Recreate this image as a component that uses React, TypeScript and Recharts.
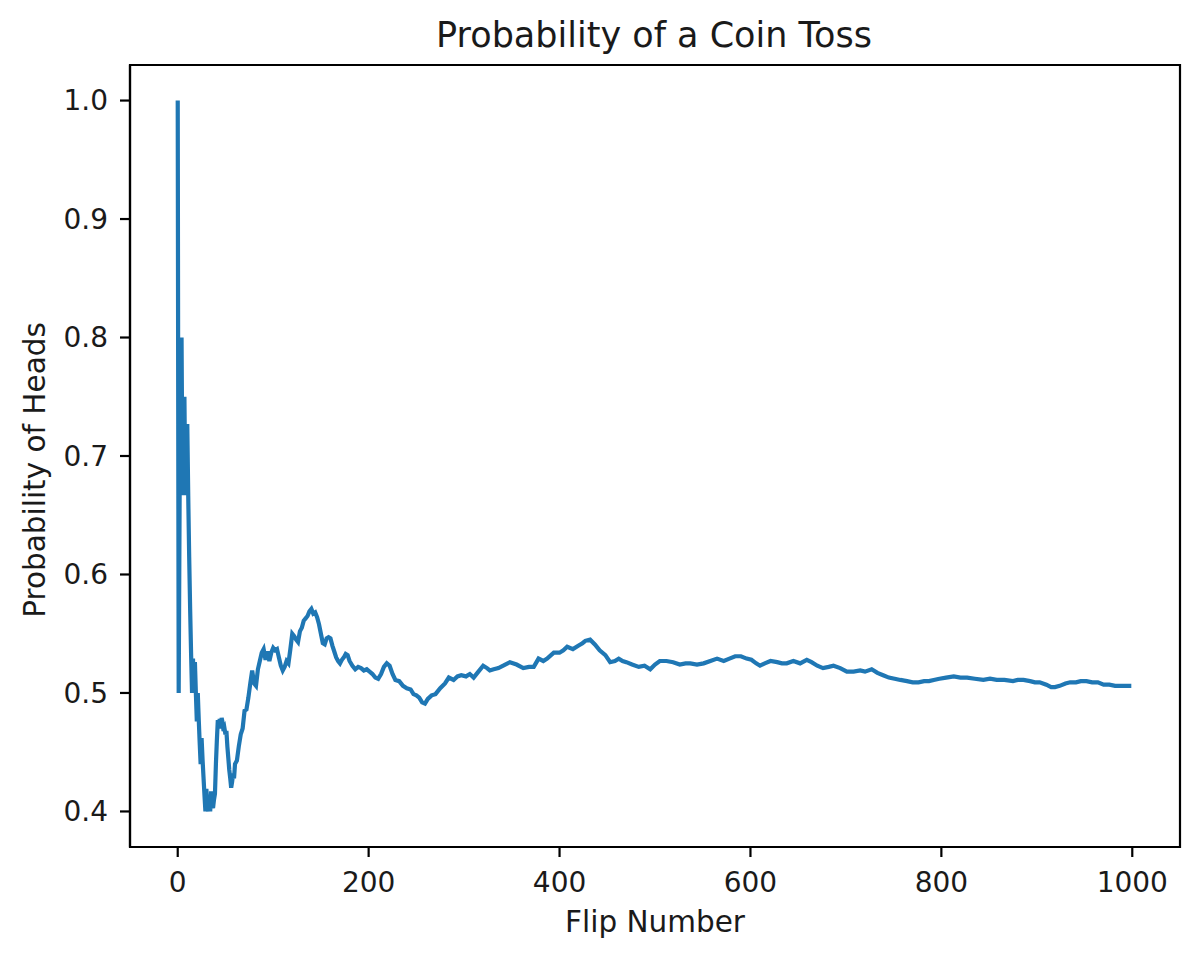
import { LineChart, Line, XAxis, YAxis, ReferenceArea } from 'recharts';

// running share of heads at irregular flip numbers
const flips = [
  0, 1, 2, 3, 4, 5, 6, 7, 8, 9, 10, 11, 12, 13, 14, 15, 16, 17, 18, 19,
  20, 21, 22, 23, 24, 25, 26, 27, 28, 29, 30, 31, 32, 33, 34, 35, 36, 37, 38, 39,
  40, 41, 42, 43, 44, 45, 46, 47, 48, 49, 50, 51, 52, 53, 54, 55, 56, 57, 58, 59,
  60, 62, 64, 66, 68, 70, 72, 74, 76, 78, 80, 82, 84, 86, 88, 90, 92, 94, 96, 98,
  100, 102, 104, 106, 108, 110, 112, 114, 116, 118, 120, 122, 124, 126, 128, 130,
  132, 134, 136, 138, 140, 142, 144, 146, 148, 150, 152, 154, 156, 158, 160, 162,
  164, 166, 168, 170, 172, 174, 176, 178, 180, 183, 186, 189, 192, 195, 198, 201,
  204, 207, 210, 213, 216, 219, 222, 225, 228, 232, 236, 240, 244, 247, 250, 253,
  256, 259, 262, 266, 270, 275, 280, 284, 289, 293, 297, 302, 306, 310, 315, 320,
  324, 327, 331, 336, 341, 348, 355, 362, 368, 373, 378, 383, 387, 394, 400, 404,
  408, 414, 420, 424, 427, 432, 437, 442, 448, 453, 458, 462, 466, 470, 476, 483,
  489, 495, 500, 505, 512, 519, 526, 532, 537, 544, 551, 558, 565, 572, 578, 584,
  590, 596, 601, 606, 610, 615, 621, 628, 633, 638, 645, 652, 659, 664, 670, 676,
  682, 687, 694, 701, 708, 715, 720, 727, 733, 739, 745, 751, 757, 764, 770, 776,
  782, 787, 792, 798, 805, 813, 820, 827, 835, 844, 851, 858, 866, 875, 880, 886,
  893, 898, 903, 910, 915, 919, 924, 930, 935, 941, 946, 952, 958, 964, 970, 976,
  982, 988, 994, 999,
];

const headsShare = [
  1.0, 0.5, 0.667, 0.75, 0.8, 0.667, 0.714, 0.75, 0.667, 0.7, 0.727, 0.667, 0.615, 0.571, 0.533, 0.5, 0.529, 0.5, 0.526, 0.5,
  0.476, 0.5, 0.478, 0.458, 0.44, 0.462, 0.444, 0.429, 0.414, 0.4, 0.419, 0.406, 0.4, 0.412, 0.4, 0.417, 0.405, 0.403, 0.41, 0.415,
  0.44, 0.46, 0.477, 0.47, 0.478, 0.47, 0.479, 0.475, 0.468, 0.47, 0.465, 0.468, 0.455, 0.445, 0.435, 0.428, 0.42, 0.425, 0.432, 0.428,
  0.44, 0.443, 0.455, 0.465, 0.47, 0.485, 0.486, 0.496, 0.508, 0.519, 0.508, 0.506, 0.52, 0.527, 0.534, 0.537, 0.528, 0.535, 0.527, 0.534,
  0.538, 0.536, 0.537, 0.53, 0.523, 0.519, 0.522, 0.527, 0.525, 0.537, 0.55, 0.548, 0.545, 0.543, 0.552, 0.555,
  0.561, 0.563, 0.565, 0.569, 0.571, 0.567, 0.568, 0.564, 0.558, 0.55, 0.542, 0.541, 0.546, 0.547, 0.546, 0.54,
  0.535, 0.53, 0.527, 0.525, 0.528, 0.53, 0.533, 0.532, 0.527, 0.523, 0.52, 0.522, 0.521, 0.519, 0.52, 0.518,
  0.516, 0.513, 0.512, 0.516, 0.522, 0.525, 0.523, 0.516, 0.511, 0.51, 0.506, 0.504, 0.503, 0.499, 0.498, 0.496,
  0.492, 0.491, 0.495, 0.498, 0.499, 0.504, 0.508, 0.513, 0.511, 0.514, 0.515, 0.514, 0.516, 0.513, 0.518, 0.523,
  0.521, 0.519, 0.52, 0.521, 0.523, 0.526, 0.524, 0.521, 0.522, 0.522, 0.529, 0.527, 0.529, 0.534, 0.534, 0.536,
  0.539, 0.537, 0.54, 0.542, 0.544, 0.545, 0.541, 0.536, 0.532, 0.526, 0.527, 0.529, 0.527, 0.526, 0.524, 0.522,
  0.523, 0.52, 0.524, 0.527, 0.527, 0.526, 0.524, 0.525, 0.525, 0.524, 0.525, 0.527, 0.529, 0.527, 0.529, 0.531,
  0.531, 0.529, 0.528, 0.525, 0.523, 0.525, 0.527, 0.526, 0.525, 0.525, 0.527, 0.525, 0.528, 0.526, 0.523, 0.521,
  0.522, 0.523, 0.521, 0.518, 0.518, 0.519, 0.518, 0.52, 0.517, 0.515, 0.513, 0.512, 0.511, 0.51, 0.509, 0.509,
  0.51, 0.51, 0.511, 0.512, 0.513, 0.514, 0.513, 0.513, 0.512, 0.511, 0.512, 0.511, 0.511, 0.51, 0.511, 0.511,
  0.51, 0.509, 0.509, 0.507, 0.505, 0.505, 0.506, 0.508, 0.509, 0.509, 0.51, 0.51, 0.509, 0.509, 0.507, 0.507,
  0.506, 0.506, 0.506, 0.506,
];

const xTicks = [0, 200, 400, 600, 800, 1000];
const yTicks = [0.4, 0.5, 0.6, 0.7, 0.8, 0.9, 1.0];

const FONT = '"DejaVu Sans", sans-serif';
const INK = '#1a1a1a';

export default function App() {
  const data = flips.map((flip, i) => ({ flip, prob: headsShare[i] }));

  return (
    <div style={{ position: 'absolute', left: 0, top: 0, width: 1200, height: 959, background: '#fff' }}>
      <style>{'body{margin:0}'}</style>
      <LineChart width={1200} height={959} data={data} margin={{ top: 65, right: 20, bottom: 82, left: 70 }}>
        <XAxis
          dataKey="flip"
          type="number"
          domain={[-50, 1050]}
          ticks={xTicks}
          allowDataOverflow
          height={30}
          tickSize={10}
          tickMargin={15}
          axisLine={{ stroke: '#000', strokeWidth: 2.2 }}
          tickLine={{ stroke: '#000', strokeWidth: 2.2 }}
          tick={{ fill: INK, fontSize: 28, fontFamily: FONT }}
        />
        <YAxis
          type="number"
          domain={[0.37, 1.03]}
          ticks={yTicks}
          allowDataOverflow
          width={60}
          tickSize={10}
          tickMargin={12}
          tickFormatter={(v: number) => v.toFixed(1)}
          axisLine={{ stroke: '#000', strokeWidth: 2.2 }}
          tickLine={{ stroke: '#000', strokeWidth: 2.2 }}
          tick={{ fill: INK, fontSize: 28, fontFamily: FONT }}
        />
        <ReferenceArea x1={-50} x2={1050} y1={0.37} y2={1.03} fill="none" stroke="#000" strokeWidth={2.2} ifOverflow="visible" />
        <Line
          type="linear"
          dataKey="prob"
          stroke="#1f77b4"
          strokeWidth={4.2}
          dot={false}
          isAnimationActive={false}
        />
      </LineChart>
      <svg width={1200} height={959} style={{ position: 'absolute', left: 0, top: 0, pointerEvents: 'none' }}>
        <text x={654} y={47} textAnchor="middle" fontSize={35} fontFamily={FONT} fill={INK}>
          Probability of a Coin Toss
        </text>
        <text x={655} y={932} textAnchor="middle" fontSize={29.5} fontFamily={FONT} fill={INK}>
          Flip Number
        </text>
        <text x={45} y={470} textAnchor="middle" fontSize={29.5} fontFamily={FONT} fill={INK} transform="rotate(-90 45 470)">
          Probability of Heads
        </text>
      </svg>
    </div>
  );
}
